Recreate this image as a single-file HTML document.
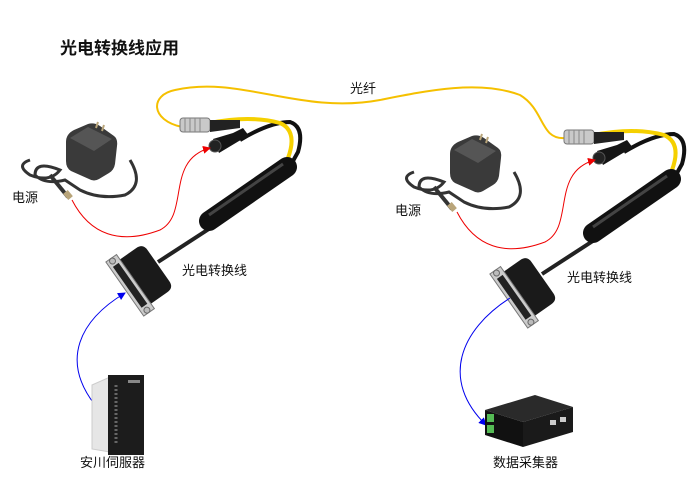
<!DOCTYPE html>
<html><head><meta charset="utf-8"><style>
html,body{margin:0;padding:0;background:#fff}
svg{display:block}
text{font-family:"Liberation Sans","Noto Sans CJK SC",sans-serif;fill:#111}
</style></head><body>
<svg width="700" height="495" viewBox="0 0 700 495" xmlns="http://www.w3.org/2000/svg">
<defs>
<marker id="ar" markerWidth="8" markerHeight="8" refX="7" refY="4" orient="auto" markerUnits="userSpaceOnUse"><path d="M0,0 L8,4 L0,8 z" fill="#e00"/></marker>
<marker id="ab" markerWidth="8" markerHeight="8" refX="7" refY="4" orient="auto" markerUnits="userSpaceOnUse"><path d="M0,0 L8,4 L0,8 z" fill="#00e"/></marker>
<g id="asm">
  <!-- adapter cord -->
  <path d="M30,160 q-15,5 0,15 q20,8 30,-5 q-25,-10 -25,5 q10,10 30,5 l15,10 q20,10 45,5 q20,-10 5,-35" fill="none" stroke="#333" stroke-width="3"/>
  <path d="M50,175 l18,22" stroke="#333" stroke-width="4"/>
  <rect x="64" y="192" width="8" height="6" fill="#b9a57a" transform="rotate(50 68 195)"/>
  <!-- adapter body -->
  <path d="M66,142 q0,-8 8,-12 l14,-6 q6,-2 12,2 l14,10 q4,3 3,10 l-2,18 q-1,6 -6,9 l-10,6 q-5,3 -10,0 l-18,-8 q-5,-3 -5,-10z" fill="#3a3a3a"/>
  <path d="M70,138 l18,-11 l24,12 l-18,12 z" fill="#555"/>
  <path d="M96,128 l2,-6 M102,131 l2,-6" stroke="#b9a57a" stroke-width="2"/>
  <!-- cables to cylinder -->
  <path d="M240,140 q30,-18 50,-18 q15,5 8,30 l-10,18" fill="none" stroke="#111" stroke-width="4"/>
  <path d="M210,123 q40,-8 70,0 q18,8 8,35 l-6,12" fill="none" stroke="#f5d000" stroke-width="4"/>
  <!-- fiber connector -->
  <rect x="180" y="118" width="30" height="14" rx="3" fill="#c9c9c9" stroke="#777"/>
  <path d="M185,118 v14 M190,118 v14 M195,118 v14 M200,118 v14" stroke="#888"/>
  <path d="M210,120 l30,0 l0,8 l-30,4z" fill="#222"/>
  <!-- DC jack -->
  <path d="M213,139 l20,-6 l10,-5 l6,8 l-10,5 l-20,12z" fill="#151515"/>
  <circle cx="215" cy="146" r="6" fill="#222" stroke="#555"/>
  <!-- thin cable -->
  <path d="M215,225 L158,262" stroke="#222" stroke-width="4"/>
  <!-- cylinder -->
  <path d="M209,221 L287,167" stroke="#111" stroke-width="20" stroke-linecap="round"/>
  <path d="M209,215 L283,164" stroke="#444" stroke-width="3"/>
  <!-- DB connector -->
  <g transform="rotate(-35 142 277)">
    <path d="M132,250 h22 q8,0 8,8 v38 q0,8 -8,8 h-22z" fill="#1a1a1a"/>
    <rect x="121" y="244" width="13" height="66" fill="#ccc" stroke="#777"/>
    <rect x="124" y="252" width="7" height="50" fill="#222"/>
    <circle cx="127" cy="247" r="3" fill="#bbb" stroke="#666"/><circle cx="127" cy="307" r="3" fill="#bbb" stroke="#666"/>
  </g>
</g>
</defs>

<text x="60" y="54" font-size="17" font-weight="bold">光电转换线应用</text>

<!-- fiber -->
<path d="M182,127 C150,120 150,95 175,90 C240,75 300,115 380,100 C430,90 480,80 520,95 C545,110 540,140 565,138" fill="none" stroke="#f5c000" stroke-width="2"/>
<text x="350" y="93" font-size="13">光纤</text>

<use href="#asm"/>
<use href="#asm" transform="translate(384,12)"/>

<!-- red arrows -->
<path d="M72,200 C90,235 120,245 160,230 C190,215 165,160 210,148" fill="none" stroke="#e00" stroke-width="1" marker-end="url(#ar)"/>
<path d="M457,212 C475,247 505,257 545,242 C575,227 550,172 595,160" fill="none" stroke="#e00" stroke-width="1" marker-end="url(#ar)"/>

<text x="12" y="202" font-size="13">电源</text>
<text x="395" y="215" font-size="13">电源</text>
<text x="182" y="275" font-size="13">光电转换线</text>
<text x="567" y="282" font-size="13">光电转换线</text>

<!-- blue arrows -->
<path d="M95,405 C60,360 80,320 125,293" fill="none" stroke="#00e" stroke-width="1" marker-end="url(#ab)"/>
<path d="M510,298 C460,330 440,380 486,425" fill="none" stroke="#00e" stroke-width="1" marker-end="url(#ab)"/>

<!-- servo -->
<path d="M92,385 l18,-8 v75 l-18,-3z" fill="#e6e6e6" stroke="#ccc"/>
<rect x="108" y="375" width="36" height="80" fill="#1c1c1c"/>
<path d="M116,385 v60" stroke="#666" stroke-width="3" stroke-dasharray="2,2"/>
<rect x="128" y="380" width="12" height="3" fill="#888"/>
<text x="80" y="467" font-size="13">安川伺服器</text>

<!-- data collector -->
<path d="M485,410 l50,-15 l38,12 l-50,15z" fill="#2a2a2a"/>
<path d="M485,410 l38,12 v25 l-38,-12z" fill="#111"/>
<path d="M523,422 l50,-15 v25 l-50,15z" fill="#1a1a1a"/>
<rect x="487" y="414" width="7" height="8" fill="#5b5"/><rect x="487" y="425" width="7" height="8" fill="#5b5"/>
<rect x="550" y="420" width="6" height="5" fill="#ccc"/><rect x="560" y="417" width="6" height="5" fill="#ccc"/>
<text x="493" y="467" font-size="13">数据采集器</text>
</svg>
</body></html>
